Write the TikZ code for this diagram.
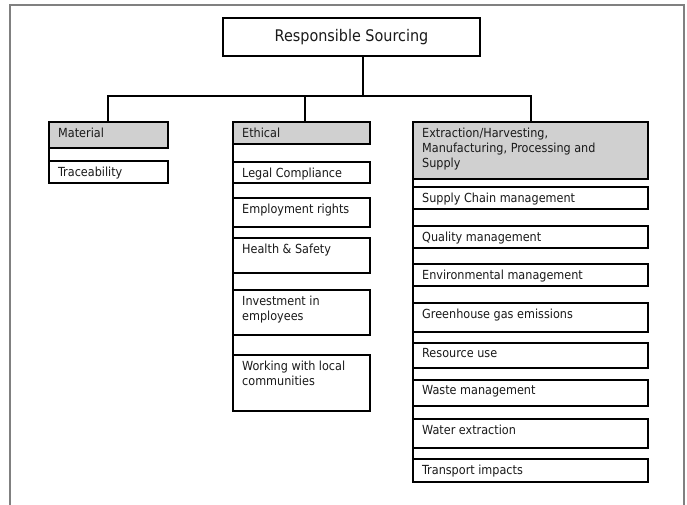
\documentclass[tikz,border=0pt]{standalone}
\usepackage{fontspec}
\newfontfamily\boxfont{DejaVu Sans Condensed}
\definecolor{hdrgray}{HTML}{D0D0D0}
\definecolor{txtc}{HTML}{1A1A1A}
\definecolor{framegray}{HTML}{808080}
\tikzset{
  cell/.style={draw=black, line width=1.3pt, anchor=north west, inner sep=0pt, outer sep=0pt},
  hdrcell/.style={cell, fill=hdrgray},
  celltext/.style={anchor=north west, inner sep=0pt, align=left, text=txtc, font=\boxfont\fontsize{12.5}{15}\selectfont},
  conn/.style={draw=black, line width=1.3pt, line cap=rect},
}
\newcommand{\mkcell}[7]{%
  \node[#1, minimum width=#5pt, minimum height=#6pt] (#2) at (#3,#4) {};
  \node[celltext] (#2-t) at ([xshift=9pt,yshift=-5.5pt]#2.north west) {#7};
}
\begin{document}
\begin{tikzpicture}[x=1pt,y=-1pt]
\path[fill=white] (0,0) rectangle (687,505);
\useasboundingbox (0,0) rectangle (687,505);
\draw[framegray, line width=2pt] (10,505) -- (10,5) -- (684,5) -- (684,505);

\node[cell, minimum width=257pt, minimum height=38pt, font=\boxfont\fontsize{16}{19}\selectfont, text=txtc] (top) at (223,18) {Responsible Sourcing};

% left column
\mkcell{hdrcell}{mat}{49}{122}{119}{26}{Material}
\mkcell{cell}{trace}{49}{161}{119}{22}{Traceability}

% middle column
\mkcell{hdrcell}{eth}{233}{122}{137}{22}{Ethical}
\mkcell{cell}{legal}{233}{162}{137}{21}{Legal Compliance}
\mkcell{cell}{empl}{233}{198}{137}{29}{Employment rights}
\mkcell{cell}{health}{233}{238}{137}{35}{Health \& Safety}
\mkcell{cell}{invest}{233}{290}{137}{45}{Investment in\\employees}
\mkcell{cell}{work}{233}{355}{137}{56}{Working with local\\communities}

% right column
\mkcell{hdrcell}{ext}{413}{122}{235}{57}{Extraction/Harvesting,\\Manufacturing, Processing and\\Supply}
\mkcell{cell}{supply}{413}{187}{235}{22}{Supply Chain management}
\mkcell{cell}{quality}{413}{226}{235}{22}{Quality management}
\mkcell{cell}{env}{413}{264}{235}{22}{Environmental management}
\mkcell{cell}{ghg}{413}{303}{235}{29}{Greenhouse gas emissions}
\mkcell{cell}{res}{413}{343}{235}{25}{Resource use}
\mkcell{cell}{waste}{413}{380}{235}{26}{Waste management}
\mkcell{cell}{water}{413}{419}{235}{29}{Water extraction}
\mkcell{cell}{trans}{413}{459}{235}{23}{Transport impacts}

% connectors
\coordinate (stem) at (363,96);
\coordinate (busL) at (108,96);
\coordinate (busM) at (305,96);
\coordinate (busR) at (531,96);
\draw[conn] (top.south -| stem) -- (stem);
\draw[conn] (busL) -- (busR);
\draw[conn] (busL) -- (mat.north -| busL);
\draw[conn] (busM) -- (eth.north -| busM);
\draw[conn] (busR) -- (ext.north -| busR);
\draw[conn] (mat.north west) -- (trace.south west);
\draw[conn] (eth.north west) -- (work.south west);
\draw[conn] (ext.north west) -- (trans.south west);
\end{tikzpicture}
\end{document}
